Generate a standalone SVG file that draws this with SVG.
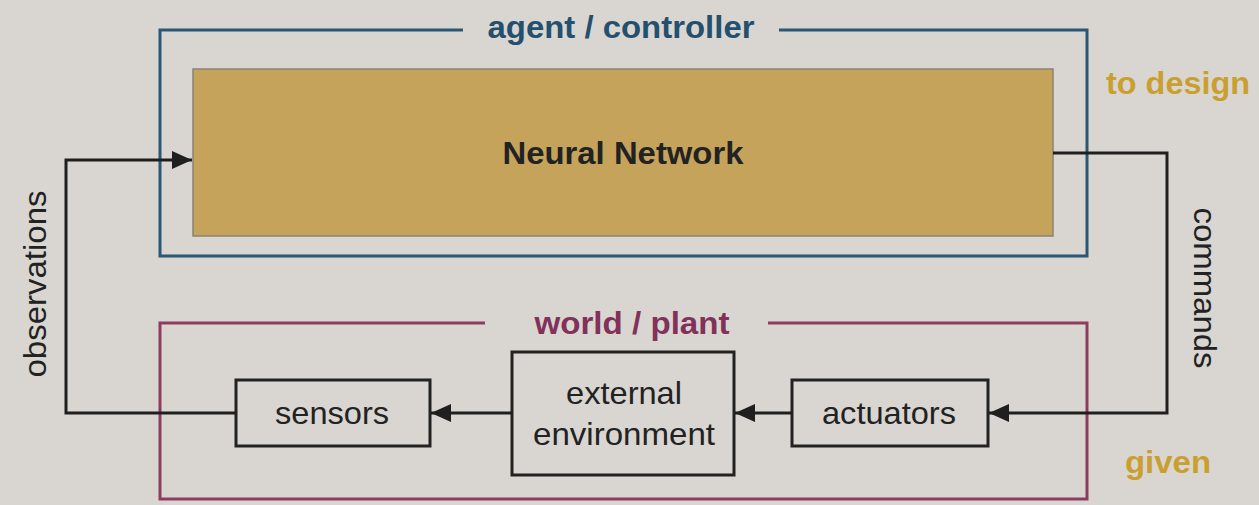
<svg xmlns="http://www.w3.org/2000/svg" width="1259" height="505" viewBox="0 0 1259 505">
<defs>
<marker id="arr" markerUnits="userSpaceOnUse" markerWidth="22" markerHeight="20" refX="20" refY="10" orient="auto">
<path d="M0,1 L20,10 L0,19 Z" fill="#1f1f1f"/>
</marker>
<style>
.lbl{font-family:"Liberation Sans",Arial,sans-serif;font-size:32px;fill:#222;text-anchor:middle}
.bold{font-weight:bold}
.box{fill:none;stroke:#222;stroke-width:3}
.conn{fill:none;stroke:#1f1f1f;stroke-width:3}
</style>
</defs>
<rect x="0" y="0" width="1259" height="505" fill="#d9d6d1"/>
<g id="agent">
<path d="M463,30 H160 V256 H1087 V30 H779" fill="none" stroke="#2a5776" stroke-width="3"/>
<text class="lbl bold" x="621" y="38" style="fill:#254f6e" textLength="267" lengthAdjust="spacingAndGlyphs">agent / controller</text>
</g>
<g id="neural-network">
<rect x="193" y="69" width="860" height="167" fill="#c5a35a" stroke="#8a8474" stroke-width="1.5"/>
<text class="lbl bold" x="623" y="164" textLength="241" lengthAdjust="spacingAndGlyphs">Neural Network</text>
</g>
<g id="world">
<path d="M485,323 H160 V499 H1087 V323 H768" fill="none" stroke="#8d3b63" stroke-width="3"/>
<text class="lbl bold" x="632" y="334" style="fill:#81315a" textLength="195" lengthAdjust="spacingAndGlyphs">world / plant</text>
</g>
<g id="sensors">
<rect class="box" x="236" y="380" width="194" height="66"/>
<text class="lbl" x="332" y="424" textLength="114" lengthAdjust="spacingAndGlyphs">sensors</text>
</g>
<g id="environment">
<rect class="box" x="512" y="352" width="222" height="123"/>
<text class="lbl" x="624" y="404" textLength="116" lengthAdjust="spacingAndGlyphs">external</text>
<text class="lbl" x="624" y="445" textLength="182" lengthAdjust="spacingAndGlyphs">environment</text>
</g>
<g id="actuators">
<rect class="box" x="792" y="380" width="196" height="66"/>
<text class="lbl" x="889" y="424" textLength="134" lengthAdjust="spacingAndGlyphs">actuators</text>
</g>
<g id="connectors">
<path class="conn" d="M236,413 H66 V160 H192" marker-end="url(#arr)"/>
<path class="conn" d="M512,413 H431" marker-end="url(#arr)"/>
<path class="conn" d="M792,413 H735" marker-end="url(#arr)"/>
<path class="conn" d="M1053,153 H1167 V413 H989" marker-end="url(#arr)"/>
</g>
<g id="labels">
<text class="lbl" transform="translate(46,284) rotate(-90)" textLength="187" lengthAdjust="spacingAndGlyphs">observations</text>
<text class="lbl" transform="translate(1194,288) rotate(90)" textLength="161" lengthAdjust="spacingAndGlyphs">commands</text>
<text class="lbl bold" x="1178" y="94" style="fill:#c9a030" textLength="144" lengthAdjust="spacingAndGlyphs">to design</text>
<text class="lbl bold" x="1168" y="473" style="fill:#c9a030" textLength="86" lengthAdjust="spacingAndGlyphs">given</text>
</g>
</svg>
